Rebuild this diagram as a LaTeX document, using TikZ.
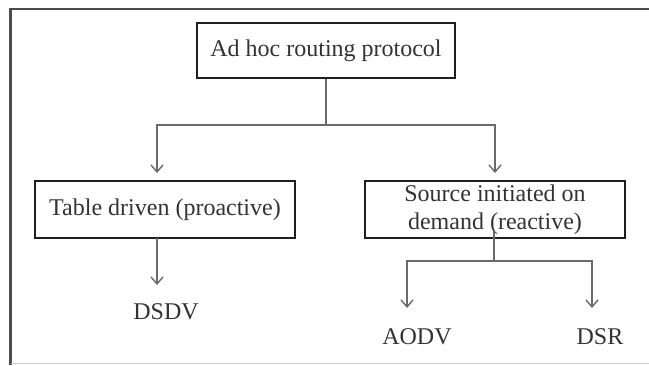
\documentclass[tikz,border=0pt]{standalone}
\usepackage{fontspec}
\setmainfont{Liberation Serif}
\usetikzlibrary{arrows.meta}
\definecolor{txt}{HTML}{333333}
\definecolor{boxc}{HTML}{1E1E1E}
\definecolor{conn}{HTML}{6A6A6A}
\tikzset{
  box/.style={draw=boxc, line width=2.8pt, text=txt, font=\fontsize{24}{28}\selectfont, inner sep=0pt, align=center},
  lbl/.style={text=txt, font=\fontsize{24}{28}\selectfont, inner sep=0pt},
  link/.style={draw=conn, line width=1.4pt},
  arr/.style={link, -{Straight Barb[length=7pt,width=12pt,line width=1.4pt]}},
}
\begin{document}
\begin{tikzpicture}[x=1pt,y=-1pt]
\useasboundingbox (0,0) rectangle (649,365);
% frame
\draw[draw=black!70, line width=2.2pt] (649,9) -- (10.5,9) -- (10.5,365);
\draw[draw=black!20, line width=1pt] (10.5,363) -- (649,363);
% boxes
\node[box, minimum width=258pt, minimum height=55pt] (top) at (326,50.5) {Ad hoc routing protocol};
\node[box, minimum width=260pt, minimum height=57pt] (lb) at (165,209.5) {Table driven (proactive)};
\node[box, minimum width=260pt, minimum height=57pt] (rb) at (495,209.5) {Source initiated on\\demand (reactive)};
% leaves
\node[lbl] (dsdv) at (166,312) {DSDV};
\node[lbl] (aodv) at (417,337) {AODV};
\node[lbl] (dsr) at (600,337) {DSR};
% junctions and tips
\coordinate (j1) at (326,125);
\coordinate (t1) at (157,173);
\coordinate (t2) at (495,173);
\coordinate (s1) at (157,238);
\coordinate (t3) at (157,285);
\coordinate (s2) at (494,231);
\coordinate (j2) at (494,261);
\coordinate (t4) at (407,308);
\coordinate (t5) at (592,308);
% connectors
\draw[link] (top.south) -- (j1);
\draw[arr] (j1) -| (t1);
\draw[arr] (j1) -| (t2);
\draw[arr] (s1) -- (t3);
\draw[link] (s2) -- (j2);
\draw[arr] (j2) -| (t4);
\draw[arr] (j2) -| (t5);
\end{tikzpicture}
\end{document}
